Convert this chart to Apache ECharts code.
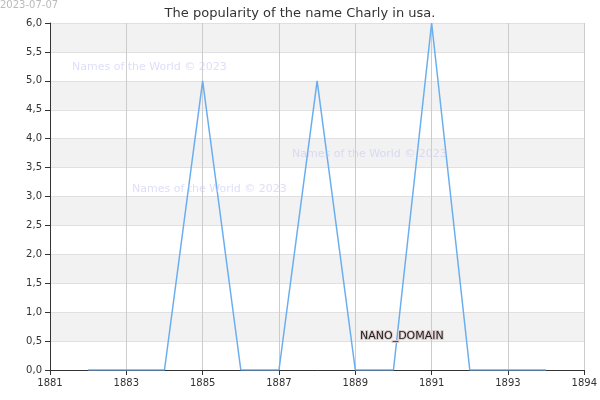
<!DOCTYPE html>
<html><head><meta charset="utf-8">
<script src="https://cdn.jsdelivr.net/npm/echarts@6/dist/echarts.min.js"></script>
<style>html,body{margin:0;padding:0;background:#fff}#c{width:600px;height:400px}</style>
</head><body><div id="c"></div>
<script>
const years = [1882,1883,1884,1885,1886,1887,1888,1889,1890,1891,1892,1893,1894];
const counts = [0,0,0,5,0,0,5,0,0,6,0,0,0];
const chart = echarts.init(document.getElementById('c'));
const wm = (x,y)=>({type:'text',z:100,left:x,top:y,style:{text:'Names of the World © 2023',fill:'rgba(200,200,245,0.6)',font:'11px DejaVu Sans'}});
chart.setOption({
  animation:false,
  title:{text:'The popularity of the name Charly in usa.',left:'center',top:2,textStyle:{fontSize:13,fontWeight:'normal',color:'#333',fontFamily:'DejaVu Sans'}},
  grid:{left:50,right:15,top:23,bottom:30},
  graphic:[
    {type:'text',z:100,left:0,top:0,style:{text:'2023-07-07',fill:'#bbb',font:'10px DejaVu Sans'}},
    wm(72,62),wm(292,149),wm(132,184),
    {type:'text',z:100,left:359,top:330,style:{text:'NANO_DOMAIN',fill:'#222',stroke:'#dcc',lineWidth:2,font:'11px DejaVu Sans'}}
  ],
  xAxis:{type:'value',min:1881,max:1895,interval:2,
    axisLine:{lineStyle:{color:'#333'}},axisTick:{show:true,lineStyle:{color:'#333'}},
    axisLabel:{color:'#333',fontSize:10,fontFamily:'DejaVu Sans',formatter:v=>v===1895?'1894':String(v)},
    splitLine:{show:true,lineStyle:{color:'#ccc'}}},
  yAxis:{type:'value',min:0,max:6,interval:0.5,
    axisLine:{show:true,lineStyle:{color:'#333'}},axisTick:{show:true,lineStyle:{color:'#333'}},
    axisLabel:{color:'#333',fontSize:10,fontFamily:'DejaVu Sans',formatter:v=>v.toFixed(1).replace('.',',')},
    splitLine:{show:true,lineStyle:{color:'#e0e0e0'}},
    splitArea:{show:true,areaStyle:{color:['#ffffff','#f2f2f2']}}},
  series:[{type:'line',data:years.map((y,i)=>[y,counts[i]]),symbol:'none',
    lineStyle:{color:'#6aaef0',width:1.5}}]
});
</script></body></html>
